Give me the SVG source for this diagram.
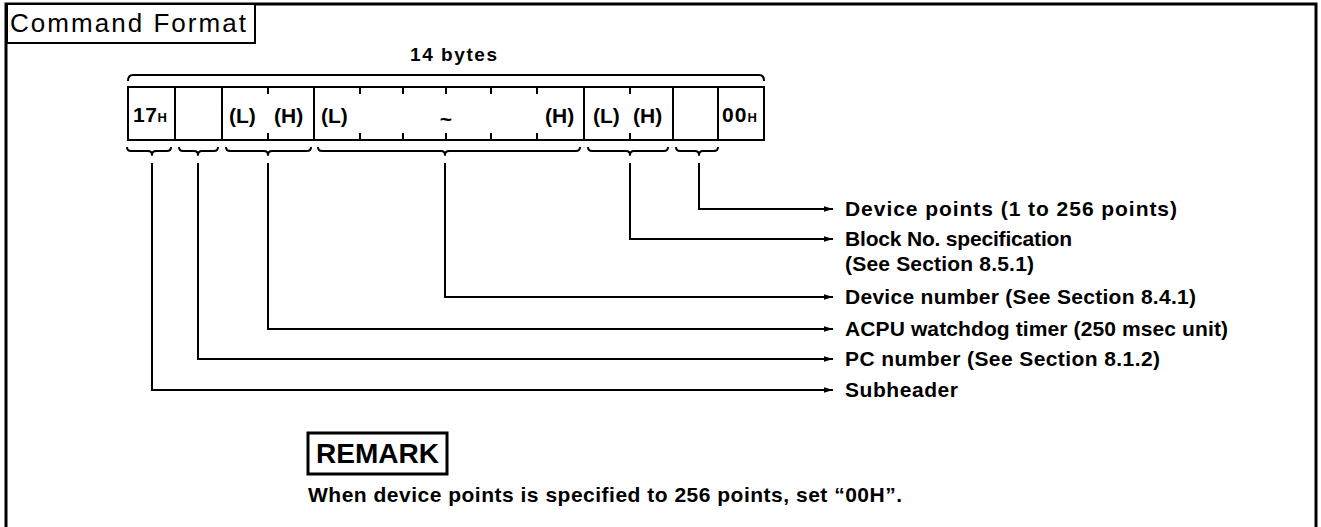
<svg xmlns="http://www.w3.org/2000/svg" width="1321" height="527" viewBox="0 0 1321 527">
  <style>
    text { font-family: "Liberation Sans", Arial, sans-serif; fill: #000; }
    .b { font-weight: bold; }
    .lbl { font-weight: bold; font-size: 21px; }
    .cell { fill: #fff; stroke: #000; stroke-width: 2; }
    .ln { fill: none; stroke: #000; stroke-width: 2; }
    .tick { stroke: #000; stroke-width: 2; }
    .brace { fill: none; stroke: #000; stroke-width: 2; stroke-linejoin: round; }
    .conn { fill: none; stroke: #000; stroke-width: 2; marker-end: url(#arr); }
  </style>
  <defs>
    <marker id="arr" markerUnits="userSpaceOnUse" markerWidth="10" markerHeight="8" refX="9" refY="4" orient="auto">
      <path d="M0,1.2 L9,4 L0,6.8 Z" fill="#000"/>
    </marker>
  </defs>
  <rect width="1321" height="527" fill="#fff"/>

  <g id="frame">
    <path d="M6,530 L6,4 L1316,4 L1316,530" fill="none" stroke="#000" stroke-width="3"/>
  </g>

  <g id="title">
    <rect x="7" y="4" width="248" height="39" fill="#fff" stroke="#000" stroke-width="2"/>
    <text x="10" y="32" font-size="26" textLength="236" lengthAdjust="spacing">Command Format</text>
  </g>

  <g id="length-bracket">
    <path class="ln" d="M128,81 Q128,75 133,75 L759,75 Q764,75 764,81"/>
    <text class="b" x="410" y="61" font-size="19" textLength="87" lengthAdjust="spacing">14 bytes</text>
  </g>

  <g id="field-subheader">
    <rect class="cell" x="128" y="87" width="47" height="53"/>
    <text class="b" x="133" y="122" font-size="21" textLength="34" lengthAdjust="spacing">17<tspan font-size="13">H</tspan></text>
    <path class="brace" d="M127,147 Q127,151 131,151 L148,151 Q152,151 152,155 Q152,151 156,151 L167,151 Q171,151 171,147"/>
  </g>

  <g id="field-pc">
    <rect class="cell" x="175" y="87" width="47" height="53"/>
    <path class="brace" d="M179,147 Q179,151 183,151 L194,151 Q198,151 198,155 Q198,151 202,151 L214,151 Q218,151 218,147"/>
  </g>

  <g id="field-acpu">
    <rect class="cell" x="222" y="87" width="92" height="53"/>
    <line class="tick" x1="268" y1="87" x2="268" y2="94"/>
    <line class="tick" x1="268" y1="133" x2="268" y2="140"/>
    <text class="lbl" x="229" y="123">(L)</text>
    <text class="lbl" x="274" y="123">(H)</text>
    <path class="brace" d="M226,147 Q226,151 230,151 L264,151 Q268,151 268,155 Q268,151 272,151 L307,151 Q311,151 311,147"/>
  </g>

  <g id="field-device-number">
    <rect class="cell" x="314" y="87" width="270" height="53" stroke-width="2.5"/>
    <line class="tick" x1="360" y1="87" x2="360" y2="94"/>
    <line class="tick" x1="403" y1="87" x2="403" y2="94"/>
    <line class="tick" x1="446" y1="87" x2="446" y2="94"/>
    <line class="tick" x1="491" y1="87" x2="491" y2="94"/>
    <line class="tick" x1="537" y1="87" x2="537" y2="94"/>
    <line class="tick" x1="360" y1="133" x2="360" y2="140"/>
    <line class="tick" x1="403" y1="133" x2="403" y2="140"/>
    <line class="tick" x1="446" y1="133" x2="446" y2="140"/>
    <line class="tick" x1="491" y1="133" x2="491" y2="140"/>
    <line class="tick" x1="537" y1="133" x2="537" y2="140"/>
    <text class="lbl" x="321" y="123">(L)</text>
    <text class="lbl" x="446" y="126" text-anchor="middle" font-size="24">~</text>
    <text class="lbl" x="545" y="123">(H)</text>
    <path class="brace" d="M318,147 Q318,151 322,151 L441,151 Q445,151 445,155 Q445,151 449,151 L576,151 Q580,151 580,147"/>
  </g>

  <g id="field-block">
    <rect class="cell" x="584" y="87" width="89" height="53"/>
    <line class="tick" x1="630" y1="87" x2="630" y2="94"/>
    <line class="tick" x1="630" y1="133" x2="630" y2="140"/>
    <text class="lbl" x="593" y="123">(L)</text>
    <text class="lbl" x="633" y="123">(H)</text>
    <path class="brace" d="M588,147 Q588,151 592,151 L626,151 Q630,151 630,155 Q630,151 634,151 L664,151 Q668,151 668,147"/>
  </g>

  <g id="field-points">
    <rect class="cell" x="673" y="87" width="45" height="53"/>
    <path class="brace" d="M676,147 Q676,151 680,151 L695,151 Q699,151 699,155 Q699,151 703,151 L714,151 Q718,151 718,147"/>
  </g>

  <g id="field-end">
    <rect class="cell" x="718" y="87" width="46" height="53"/>
    <text class="b" x="722" y="122" font-size="21" textLength="35" lengthAdjust="spacing">00<tspan font-size="13">H</tspan></text>
  </g>

  <g id="connectors">
    <path class="conn" d="M699,163 L699,209 L833,209"/>
    <path class="conn" d="M630,163 L630,239 L833,239"/>
    <path class="conn" d="M445,163 L445,297 L833,297"/>
    <path class="conn" d="M268,163 L268,329 L833,329"/>
    <path class="conn" d="M198,163 L198,359 L833,359"/>
    <path class="conn" d="M152,163 L152,390 L833,390"/>
  </g>

  <g id="label-device-points">
    <text class="lbl" x="845" y="216" textLength="332" lengthAdjust="spacing">Device points (1 to 256 points)</text>
  </g>
  <g id="label-block">
    <text class="lbl" x="845" y="246" textLength="227" lengthAdjust="spacing">Block No. specification</text>
    <text class="lbl" x="845" y="271" textLength="189" lengthAdjust="spacing">(See Section 8.5.1)</text>
  </g>
  <g id="label-device-number">
    <text class="lbl" x="845" y="304" textLength="351" lengthAdjust="spacing">Device number (See Section 8.4.1)</text>
  </g>
  <g id="label-acpu">
    <text class="lbl" x="845" y="336" textLength="383" lengthAdjust="spacing">ACPU watchdog timer (250 msec unit)</text>
  </g>
  <g id="label-pc">
    <text class="lbl" x="845" y="366" textLength="315" lengthAdjust="spacing">PC number (See Section 8.1.2)</text>
  </g>
  <g id="label-subheader">
    <text class="lbl" x="845" y="397" textLength="113" lengthAdjust="spacing">Subheader</text>
  </g>

  <g id="remark">
    <rect x="308" y="433" width="139" height="41" fill="#fff" stroke="#000" stroke-width="3"/>
    <text class="b" x="316" y="463" font-size="28" textLength="123" lengthAdjust="spacing">REMARK</text>
    <text class="lbl" x="308" y="502" textLength="594" lengthAdjust="spacing">When device points is specified to 256 points, set “00H”.</text>
  </g>
</svg>
